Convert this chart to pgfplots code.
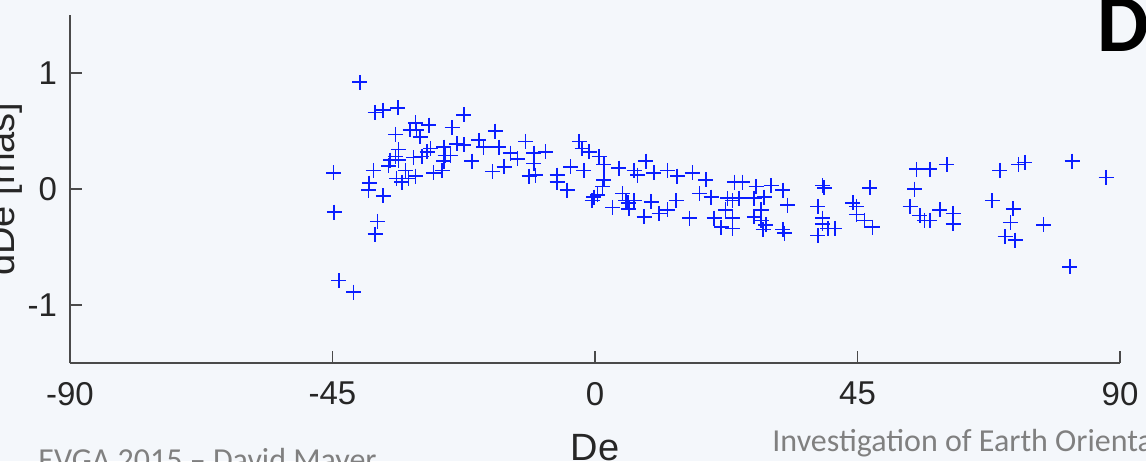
\documentclass[border=0pt]{standalone}
\usepackage{pgfplots}
\pgfplotsset{compat=1.18}
\usepackage{fontspec}
\setmainfont{Liberation Sans}
\newfontfamily\calibri{Carlito}
\definecolor{bgc}{HTML}{F4F7FB}
\definecolor{axc}{HTML}{4A4A4A}
\definecolor{txc}{HTML}{262626}
\definecolor{slidegray}{HTML}{808080}
\definecolor{mblue}{HTML}{0A1EFF}
\pgfplotstableread{
x y
-40.3 0.92
-37.7 0.66
-36.3 0.68
-33.8 0.70
-44.8 0.14
-44.7 -0.20
-43.9 -0.79
-41.4 -0.89
-37.3 -0.28
-37.7 -0.39
-38.7 0.05
-38.8 -0.01
-38.0 0.16
-36.3 -0.06
-34.2 0.47
-30.8 0.57
-30.6 0.51
-31.7 0.51
-28.5 0.55
-30.0 0.45
-33.7 0.34
-34.2 0.28
-35.1 0.25
-33.7 0.25
-35.4 0.20
-32.5 0.16
-34.0 0.09
-33.1 0.06
-32.0 0.09
-30.8 0.11
-31.1 0.27
-29.7 0.28
-28.8 0.32
-28.2 0.35
-27.7 0.14
-26.2 0.16
-25.9 0.24
-25.7 0.29
-24.8 0.29
-25.9 0.36
-24.5 0.53
-22.5 0.64
-23.7 0.39
-22.5 0.38
-21.1 0.24
-19.9 0.42
-19.1 0.36
-17.1 0.50
-16.5 0.36
-17.6 0.15
-15.6 0.19
-14.5 0.31
-13.3 0.26
-11.9 0.41
-10.5 0.31
-8.5 0.32
-10.5 0.22
-11.3 0.11
-10.2 0.12
-6.5 0.12
-6.5 0.06
-4.8 -0.01
-4.2 0.19
-1.9 0.16
-2.7 0.41
-2.2 0.35
-1.0 0.32
-0.2 -0.07
-0.5 -0.10
0.7 0.28
1.5 0.21
4.1 0.18
8.7 0.24
6.7 0.16
7.3 0.12
10.1 0.14
12.4 0.16
14.1 0.11
16.7 0.14
19.0 0.08
1.5 0.08
1.3 0.02
0.4 -0.05
4.7 -0.04
5.3 -0.10
5.7 -0.12
6.7 -0.10
3.0 -0.16
5.8 -0.17
9.6 -0.11
8.4 -0.24
11.0 -0.21
12.4 -0.18
13.9 -0.10
16.2 -0.25
17.9 -0.04
19.9 -0.07
20.4 -0.25
21.6 -0.33
22.4 -0.18
22.7 -0.08
23.6 -0.10
23.9 0.06
25.3 0.06
24.7 -0.08
23.6 -0.25
23.6 -0.34
27.6 0.02
27.3 -0.08
29.0 -0.07
30.2 0.03
32.2 -0.01
33.0 -0.14
28.5 -0.18
27.3 -0.24
28.5 -0.27
29.3 -0.31
28.8 -0.35
32.2 -0.35
32.5 -0.38
39.0 0.03
39.3 0.01
38.2 -0.15
39.0 -0.25
39.0 -0.30
39.9 -0.34
38.2 -0.40
41.1 -0.34
47.1 0.01
44.2 -0.12
44.8 -0.15
44.8 -0.22
46.2 -0.27
47.6 -0.33
55.1 0.17
57.4 0.17
60.3 0.21
54.8 0.00
54.0 -0.15
55.7 -0.23
56.5 -0.27
57.4 -0.27
59.1 -0.18
61.4 -0.21
61.4 -0.30
69.4 0.16
72.6 0.21
73.7 0.23
68.1 -0.10
71.7 -0.17
71.2 -0.29
70.3 -0.41
72.0 -0.44
76.9 -0.31
81.8 0.24
87.6 0.10
81.4 -0.67
}\dataDe
\begin{document}
\begin{tikzpicture}
\useasboundingbox (0,0) rectangle (573pt,230.5pt);
\clip (0,0) rectangle (573pt,230.5pt);
\fill[bgc] (0,0) rectangle (573pt,230.5pt);
\begin{axis}[
  at={(35pt,49pt)}, anchor=south west,
  scale only axis, width=525pt, height=174pt,
  xmin=-90, xmax=90, ymin=-1.5, ymax=1.5,
  axis x line*=bottom, axis y line*=left,
  axis line style={axc, line width=0.6pt},
  tick style={axc, line width=0.6pt},
  tick align=inside, major tick length=6pt,
  xtick={-90,-45,0,45,90}, xticklabels={-90,-45,0,45,90},
  ytick={-1,0,1}, yticklabels={-1,0,1},
  ticklabel style={font=\fontsize{16.5}{18}\selectfont, text=txc},
  xticklabel style={yshift=-6pt},
  yticklabel style={xshift=-3pt},
  xlabel={De}, ylabel={dDe [mas]},
  every axis x label/.style={at={(rel axis cs:0.5,0)}, anchor=base, yshift=-48.5pt, font=\fontsize{19}{22}\selectfont, text=txc},
  every axis y label/.style={at={(rel axis cs:0,0.5)}, xshift=-28pt, rotate=90, anchor=base, font=\fontsize{19}{22}\selectfont, text=txc},
]
\addplot[only marks, mark=+, mark size=3.75pt, mark options={mblue, line width=0.8pt}] table[x=x,y=y] {\dataDe};
\end{axis}
\node[anchor=base west, inner sep=0, text=slidegray, font=\calibri\fontsize{16}{18}\selectfont] at (386pt,5pt) {Investigation of Earth Orientation};
\node[anchor=base west, inner sep=0, text=slidegray, font=\calibri\fontsize{16}{18}\selectfont] at (19pt,-4.5pt) {EVGA 2015 – David Mayer};
\node[anchor=base west, inner sep=0, text=black, font=\calibri\bfseries\fontsize{41}{44}\selectfont] at (548.5pt,204.5pt) {D};
\end{tikzpicture}
\end{document}
